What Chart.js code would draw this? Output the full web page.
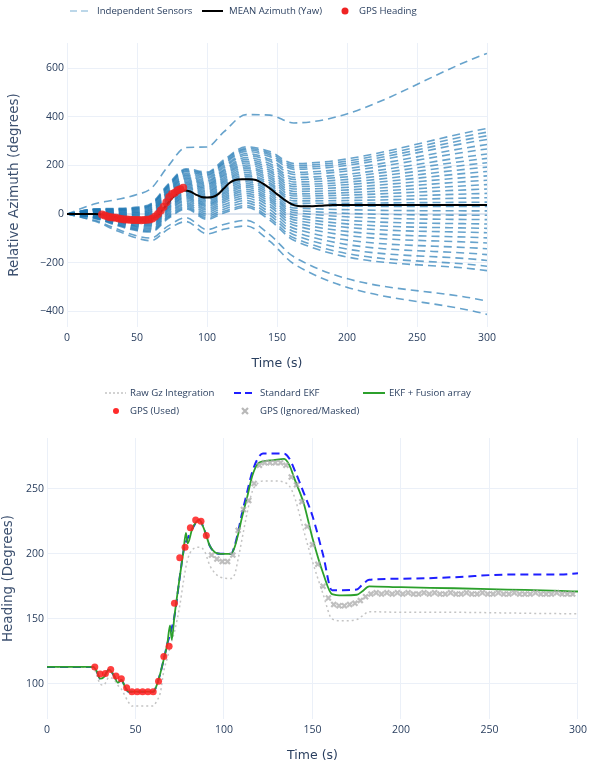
<!DOCTYPE html>
<html>
<head>
<meta charset="utf-8">
<script src="https://cdn.jsdelivr.net/npm/chart.js@4.4.1/dist/chart.umd.min.js"></script>
<style>
  body { margin: 0; background: #fff; }
  #wrap { position: relative; width: 592px; height: 763px; overflow: hidden; }
  .box { position: absolute; left: 0; width: 592px; }
  .leg { position: absolute; line-height: 0; }
  .lab { position: absolute; font: 9.6px "Open Sans", sans-serif; color: #2a3f5f; line-height: 14px; white-space: nowrap; }
</style>
</head>
<body>
<div id="wrap">
  <div class="box" style="top:0;height:375px"><canvas id="azimuthChart"></canvas></div>
  <div class="box" style="top:375px;height:388px"><canvas id="headingChart"></canvas></div>

  <!-- legend, top chart -->
  <div class="leg" style="left:70px;top:6px"><svg width="22" height="10"><line x1="0" y1="5" x2="22" y2="5" stroke="rgba(31,119,180,0.4)" stroke-width="1.5" stroke-dasharray="7,4"/></svg></div>
  <div class="lab" style="left:97px;top:4px">Independent Sensors</div>
  <div class="leg" style="left:202px;top:6px"><svg width="22" height="10"><line x1="0" y1="5" x2="21" y2="5" stroke="#000" stroke-width="2"/></svg></div>
  <div class="lab" style="left:229px;top:4px">MEAN Azimuth (Yaw)</div>
  <div class="leg" style="left:340px;top:6px"><svg width="10" height="10"><circle cx="5" cy="5" r="3.5" fill="#ef2323"/></svg></div>
  <div class="lab" style="left:359px;top:4px">GPS Heading</div>

  <!-- legend, bottom chart -->
  <div class="leg" style="left:105px;top:388px"><svg width="22" height="10"><line x1="0" y1="5" x2="21" y2="5" stroke="#c4c4c4" stroke-width="1.5" stroke-dasharray="2,2"/></svg></div>
  <div class="lab" style="left:130px;top:386px">Raw Gz Integration</div>
  <div class="leg" style="left:234px;top:388px"><svg width="22" height="10"><line x1="0" y1="5" x2="19" y2="5" stroke="#1f1fff" stroke-width="2" stroke-dasharray="7,4"/></svg></div>
  <div class="lab" style="left:260px;top:386px">Standard EKF</div>
  <div class="leg" style="left:363px;top:388px"><svg width="24" height="10"><line x1="0" y1="5" x2="22" y2="5" stroke="#2ca02c" stroke-width="2"/></svg></div>
  <div class="lab" style="left:389px;top:386px">EKF + Fusion array</div>
  <div class="leg" style="left:111px;top:406px"><svg width="10" height="10"><circle cx="5" cy="5" r="3" fill="#ff2a2a"/></svg></div>
  <div class="lab" style="left:130px;top:404px">GPS (Used)</div>
  <div class="leg" style="left:240px;top:406px"><svg width="10" height="10"><path d="M2 2L8 8M8 2L2 8" stroke="#b8b8b8" stroke-width="2.2"/></svg></div>
  <div class="lab" style="left:260px;top:404px">GPS (Ignored/Masked)</div>
</div>

<script>
// ---- top chart: relative azimuth of the sensor array ----
const sensorTime = [0, 20, 35, 50, 60, 72, 85, 100, 112, 128, 145, 162, 300];
const sensorRuns = [
  [0, 42, 59, 80, 105, 195, 274, 276, 338, 409, 407, 375, 661],
  [0, 21, 23, 29, 43, 121, 186, 173, 223, 277, 257, 208, 352],
  [0, 20, 21, 26, 40, 117, 182, 168, 217, 271, 250, 200, 337],
  [0, 19, 19, 24, 37, 113, 178, 163, 211, 265, 243, 192, 322],
  [0, 18, 18, 21, 34, 110, 174, 158, 206, 258, 236, 184, 307],
  [0, 17, 15, 18, 30, 105, 168, 151, 198, 249, 225, 172, 286],
  [0, 15, 13, 15, 26, 100, 162, 145, 191, 242, 217, 163, 268],
  [0, 14, 11, 11, 22, 95, 157, 138, 183, 233, 207, 151, 247],
  [0, 13, 8, 8, 18, 91, 151, 132, 177, 225, 198, 142, 229],
  [0, 12, 6, 5, 15, 87, 146, 126, 170, 217, 189, 132, 211],
  [0, 10, 4, 2, 11, 82, 141, 120, 163, 210, 180, 122, 193],
  [0, 9, 2, -1, 8, 78, 136, 114, 157, 202, 172, 113, 175],
  [0, 8, 0, -4, 4, 74, 131, 108, 150, 194, 163, 103, 157],
  [0, 7, -2, -7, 0, 69, 126, 102, 143, 187, 154, 93, 139],
  [0, 6, -4, -10, -3, 65, 121, 96, 136, 179, 146, 83, 121],
  [0, 4, -6, -13, -7, 61, 116, 90, 130, 171, 137, 74, 103],
  [0, 3, -8, -16, -10, 57, 111, 84, 123, 163, 128, 64, 85],
  [0, 2, -11, -19, -14, 52, 106, 78, 116, 156, 120, 54, 67],
  [0, 1, -13, -22, -18, 48, 100, 72, 109, 148, 111, 44, 49],
  [0, 0, -15, -25, -21, 44, 95, 66, 103, 140, 102, 35, 31],
  [0, -2, -17, -28, -25, 39, 90, 60, 96, 133, 93, 25, 13],
  [0, -3, -19, -31, -28, 35, 85, 54, 89, 125, 85, 15, -5],
  [0, -4, -21, -34, -32, 31, 80, 48, 83, 117, 76, 6, -23],
  [0, -5, -23, -37, -36, 26, 75, 42, 76, 110, 67, -4, -41],
  [0, -6, -25, -40, -39, 22, 70, 36, 69, 102, 59, -14, -59],
  [0, -8, -27, -43, -43, 18, 65, 30, 62, 94, 50, -24, -77],
  [0, -9, -30, -47, -47, 13, 59, 23, 55, 85, 40, -35, -98],
  [0, -10, -32, -50, -51, 8, 53, 16, 47, 76, 30, -46, -119],
  [0, -12, -35, -54, -56, 2, 46, 8, 38, 66, 18, -59, -143],
  [0, -14, -38, -58, -61, -4, 39, 0, 29, 56, 6, -72, -167],
  [0, -15, -41, -62, -66, -10, 32, -8, 20, 46, -5, -85, -191],
  [0, -17, -43, -66, -70, -15, 26, -16, 11, 35, -17, -98, -215],
  [0, -18, -46, -69, -74, -20, 21, -22, 4, 28, -26, -108, -233],
  [0, -26, -60, -90, -99, -50, -15, -64, -43, -26, -86, -176, -359],
  [0, -30, -67, -99, -110, -63, -31, -82, -63, -49, -113, -205, -413]
];
const meanTime = [0, 20, 25, 30, 35, 40, 45, 50, 55, 60, 65, 70, 75, 80, 84, 88, 92, 96, 100, 104, 108, 112, 116, 120, 125, 130, 135, 140, 145, 150, 155, 160, 165, 170, 180, 190, 200, 250, 300];
const meanAzimuth = [0, 0, -2, -8, -14, -19, -22, -24, -24, -20, -5, 30, 65, 90, 97, 93, 80, 70, 68, 70, 82, 105, 128, 140, 143, 143, 140, 125, 105, 82, 60, 42, 33, 32, 34, 37, 37, 37, 37];
const gpsTopTime = [25, 27, 29, 31, 33, 35, 37, 39, 41, 43, 45, 47, 49, 51, 53, 55, 57, 59, 61, 63, 65, 67, 69, 71, 73, 75, 77, 79, 81, 83];
const gpsTopHeading = [-2, -6, -10, -13, -14, -15, -18, -20, -22, -22, -24, -25, -25, -25, -26, -25, -24, -22, -18, -10, 0, 15, 30, 48, 70, 82, 88, 98, 102, 108];

// ---- bottom chart: heading estimates ----
const lineTime = [0, 26, 28, 30, 32, 35, 38, 40, 42, 44, 46, 48, 60, 62, 64, 66, 68, 69.5, 70.5, 72, 75, 77, 78.5, 79.5, 82, 86, 89, 92, 95, 98, 104, 106, 108, 110, 113, 116, 119, 122, 128, 134, 137, 140, 145, 150, 156, 161, 167, 175, 178, 182, 200, 230, 260, 290, 300];
const rawGz = [113, 113, 107, 100, 99, 105, 103, 99, 96, 91, 86, 83, 83, 87, 93, 110, 120, 128, 133, 140, 160, 178, 190, 196, 203, 205, 202, 191, 185, 182, 181, 184, 196, 210, 231, 248, 254, 256, 256, 255, 252, 243, 218, 194, 169, 150, 148.5, 149.5, 152, 155.5, 155, 155, 154.5, 154, 154];
const standardEkf = [113, 113, 110, 104, 105, 111, 106, 101, 103, 98, 94, 94, 94, 99, 108, 119, 131, 138, 143, 152, 182, 201, 209, 212, 219, 226, 218, 206, 201, 200, 200, 206, 217, 230, 247, 263, 273, 277, 277, 277, 273, 264, 247, 229, 199, 172, 172, 172.5, 176, 180, 180.8, 182, 184, 184, 185];
const fusionEkf = [113, 113, 110, 104, 105, 111, 106, 101, 103, 98, 94, 94, 94, 99, 108, 119, 131, 145, 134, 152, 182, 201, 216, 208, 219, 226, 218, 206, 201, 200, 200, 205, 215, 227, 243, 260, 269, 271, 272, 273, 268, 257, 239, 212, 185, 169, 168, 168.5, 171, 175, 174.3, 173.5, 172.5, 171.5, 171];
const gpsUsedTime = [27, 30, 33, 36, 39, 42, 45, 48, 51, 54, 57, 60, 63, 66, 69, 72, 75, 78, 81, 84, 87, 90];
const gpsUsed = [113, 107.5, 108, 111, 106, 104, 97, 94, 94, 94, 94, 94, 102, 121, 129, 162, 197, 205, 220, 226, 225, 214];
const gpsMaskedTime = [93, 96, 99, 102, 105, 108, 111, 114, 117, 120, 123, 126, 129, 132, 135, 138, 141, 144, 147, 150, 153, 156, 159, 162, 165, 168, 171, 174, 177, 180, 183, 186, 189, 192, 195, 198, 201, 204, 207, 210, 213, 216, 219, 222, 225, 228, 231, 234, 237, 240, 243, 246, 249, 252, 255, 258, 261, 264, 267, 270, 273, 276, 279, 282, 285, 288, 291, 294, 297];
const gpsMasked = [199, 196, 194, 194, 199, 218, 234, 241, 254, 268,
  270, 270, 270, 270, 268, 259, 253, 240, 221, 207,
  192, 175, 166, 161, 160, 160, 161, 162, 164, 167,
  169, 170, 169, 170, 169, 170, 169, 170, 169, 169,
  170, 169, 170, 169, 169, 170, 169, 169, 170, 169,
  169, 170, 169, 169, 170, 169, 169, 170, 169, 169,
  169, 170, 169, 169, 169, 170, 169, 169, 169];

const timeTicks = [0, 50, 100, 150, 200, 250, 300];
const azimuthTicks = [-400, -200, 0, 200, 400, 600];
const headingTicks = [100, 150, 200, 250];

Chart.defaults.font.family = "'Open Sans', sans-serif";
Chart.defaults.color = "#2a3f5f";

function points(xs, ys) {
  return ys.map((v, i) => ({ x: xs[i], y: v }));
}

function minusSign(v) {
  return String(v).replace("-", "\u2212");
}

function axes(xMin, xMax, yMin, yMax, yTicks, yTitle, yWidth, yTitlePad, zeroLine) {
  return {
    x: {
      type: "linear",
      min: xMin,
      max: xMax,
      afterBuildTicks: (s) => { s.ticks = timeTicks.map((v) => ({ value: v })); },
      afterFit: (s) => { s.height = 44; },
      grid: { color: "#EBF0F8", drawTicks: false },
      border: { display: false },
      ticks: { padding: 5, font: { size: 10.5 }, maxRotation: 0 },
      title: { display: true, text: "Time (s)", font: { family: "'DejaVu Sans', sans-serif", size: 12.5 }, padding: 0 },
    },
    y: {
      type: "linear",
      min: yMin,
      max: yMax,
      afterBuildTicks: (s) => { s.ticks = yTicks.map((v) => ({ value: v })); },
      afterFit: (s) => { s.width = yWidth; },
      grid: {
        drawTicks: false,
        color: (c) => (zeroLine && c.tick && c.tick.value === 0 ? "#dce4ef" : "#EBF0F8"),
        lineWidth: (c) => (zeroLine && c.tick && c.tick.value === 0 ? 2 : 1),
      },
      border: { display: false },
      ticks: { padding: 3, font: { size: 10.5 }, callback: (v) => minusSign(v) },
      title: { display: true, text: yTitle, color: "#3d5170", font: { family: "'DejaVu Sans', sans-serif", size: 13.5 }, padding: { top: yTitlePad, bottom: 0 } },
    },
  };
}

let sensorSets = sensorRuns.map((run) => ({
  label: "Independent Sensors",
  data: points(sensorTime, run),
  borderColor: "rgba(31,119,180,0.68)",
  borderWidth: 1.6,
  borderDash: [8, 5],
  pointRadius: 0,
  cubicInterpolationMode: "monotone",
  order: 3,
}));

var azimuthChart = new Chart(document.getElementById("azimuthChart"), {
  type: "line",
  data: {
    datasets: sensorSets.concat([
      {
        label: "MEAN Azimuth (Yaw)",
        data: points(meanTime, meanAzimuth),
        borderColor: "#000",
        borderWidth: 2,
        pointRadius: 0,
        cubicInterpolationMode: "monotone",
        order: 2,
      },
      {
        label: "GPS Heading",
        data: points(gpsTopTime, gpsTopHeading),
        showLine: false,
        pointRadius: 4,
        pointBorderWidth: 0,
        pointBackgroundColor: "rgba(239,35,35,0.85)",
        order: 1,
      },
    ]),
  },
  options: {
    responsive: true,
    maintainAspectRatio: false,
    animation: false,
    layout: { padding: { left: 0, right: 105, top: 43, bottom: 4 } },
    plugins: { legend: { display: false }, tooltip: { enabled: false } },
    scales: axes(0, 300, -465, 704, azimuthTicks, "Relative Azimuth (degrees)", 67, 6, true),
  },
});

var headingChart = new Chart(document.getElementById("headingChart"), {
  type: "line",
  data: {
    datasets: [
      {
        label: "Raw Gz Integration",
        data: points(lineTime, rawGz),
        borderColor: "#c4c4c4",
        borderWidth: 1.5,
        borderDash: [2, 3],
        pointRadius: 0,
        cubicInterpolationMode: "monotone",
        order: 5,
      },
      {
        label: "Standard EKF",
        data: points(lineTime, standardEkf),
        borderColor: "#1f1fff",
        borderWidth: 2,
        borderDash: [8, 5],
        pointRadius: 0,
        cubicInterpolationMode: "monotone",
        order: 4,
      },
      {
        label: "EKF + Fusion array",
        data: points(lineTime, fusionEkf),
        borderColor: "#2ca02c",
        borderWidth: 1.8,
        pointRadius: 0,
        cubicInterpolationMode: "monotone",
        order: 3,
      },
      {
        label: "GPS (Used)",
        data: points(gpsUsedTime, gpsUsed),
        showLine: false,
        pointRadius: 3.5,
        pointBorderWidth: 0,
        pointBackgroundColor: "rgba(255,30,30,0.85)",
        order: 2,
      },
      {
        label: "GPS (Ignored/Masked)",
        data: points(gpsMaskedTime, gpsMasked),
        showLine: false,
        pointStyle: "crossRot",
        pointRadius: 3.5,
        pointBorderWidth: 2.2,
        pointBorderColor: "rgba(170,170,170,0.75)",
        order: 1,
      },
    ],
  },
  options: {
    responsive: true,
    maintainAspectRatio: false,
    animation: false,
    layout: { padding: { left: 0, right: 10, top: 63, bottom: 0 } },
    plugins: { legend: { display: false }, tooltip: { enabled: false } },
    scales: axes(0, 300, 73, 289, headingTicks, "Heading (Degrees)", 47, 0, false),
  },
});
</script>
</body>
</html>
